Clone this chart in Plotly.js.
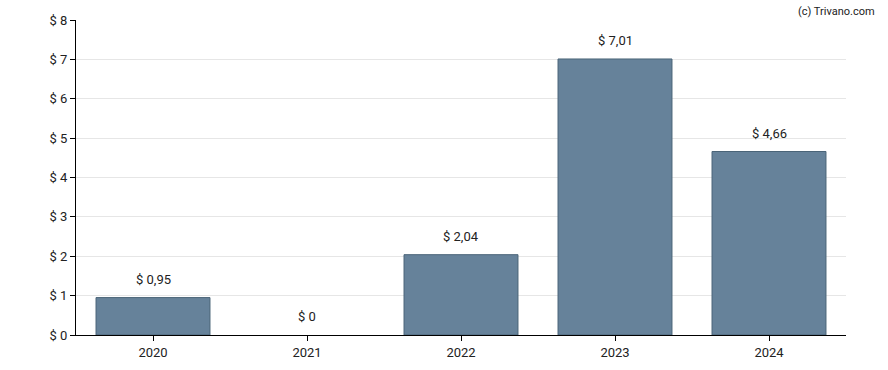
<!DOCTYPE html>
<html><head><meta charset="utf-8">
<script src="https://cdn.plot.ly/plotly-3.0.1.min.js"></script>
<style>body{margin:0;padding:0;background:#fff}#c{width:888px;height:370px}</style>
</head><body><div id="c"></div>
<script>
const years = ["2020","2021","2022","2023","2024"];
const values = [0.95, 0, 2.04, 7.01, 4.66];
const labels = ["$ 0,95","$ 0","$ 2,04","$ 7,01","$ 4,66"];
const yTicks = [0,1,2,3,4,5,6,7,8];
const yTickText = ["$ 0","$ 1","$ 2","$ 3","$ 4","$ 5","$ 6","$ 7","$ 8"];

const font = {family:"Roboto, Arial, sans-serif", size:13, color:"#222"};
const anns = years.map((y,i)=>({x:i,y:values[i],xref:"x",yref:"y",text:labels[i],showarrow:false,yanchor:"bottom",yshift:9,font:font}));
anns.push({xref:"paper",yref:"paper",x:1.04,y:1.055,xanchor:"right",yanchor:"top",text:"(c) Trivano.com",showarrow:false,font:{family:"Roboto, Arial, sans-serif",size:11,color:"#222"}});

Plotly.newPlot("c",[{
  type:"bar", x:years, y:values,
  marker:{color:"#66829a", line:{color:"#4a6478", width:values.map(v=>v>0?1:0)}},
  hoverinfo:"none"
}],{
  width:888,height:370,
  margin:{l:76,r:42,t:20,b:35},
  paper_bgcolor:"#fff",plot_bgcolor:"#fff",
  bargap:0.26,
  showlegend:false,
  font:font,
  xaxis:{type:"category",categoryorder:"array",categoryarray:years,range:[-0.5,4.5],showline:true,linecolor:"#000",linewidth:1,ticks:"outside",ticklen:5,tickcolor:"#000",showgrid:false,tickfont:font,fixedrange:true},
  yaxis:{range:[0,8],tickvals:yTicks,ticktext:yTickText,showline:true,linecolor:"#000",linewidth:1,ticks:"outside",ticklen:5,tickcolor:"#000",gridcolor:"#e6e6e6",zeroline:false,tickfont:font,fixedrange:true},
  annotations:anns
},{displayModeBar:false,staticPlot:true});
</script></body></html>
